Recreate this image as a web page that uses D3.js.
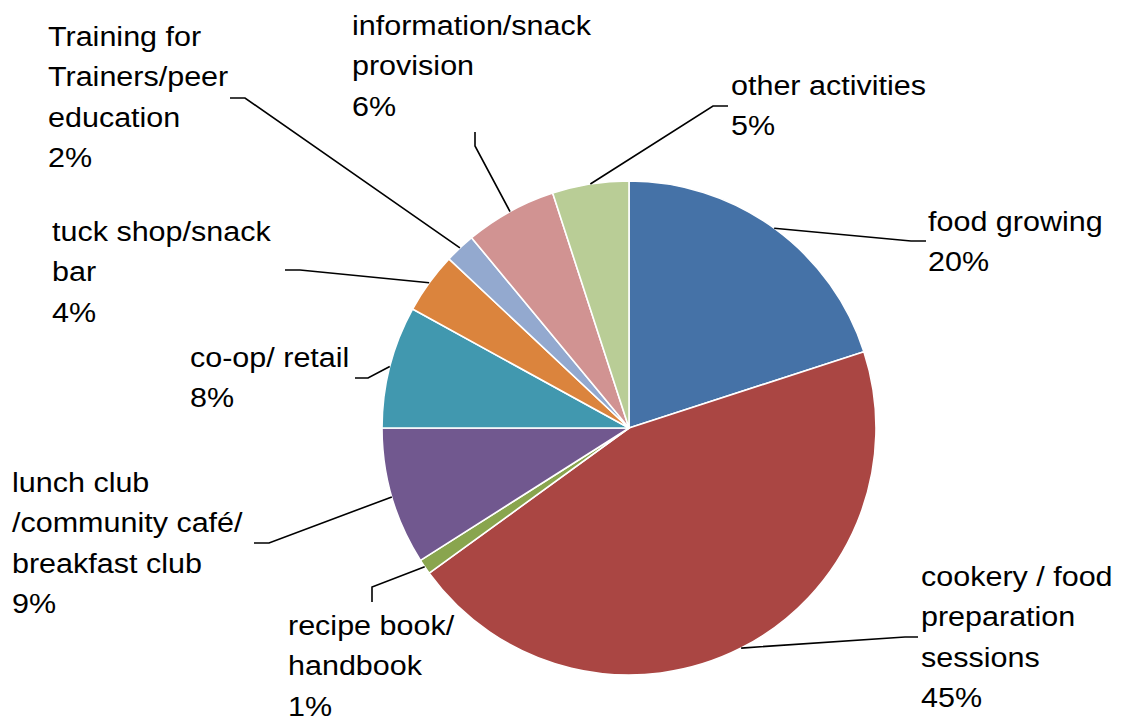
<!DOCTYPE html>
<html>
<head>
<meta charset="utf-8">
<script src="https://cdn.jsdelivr.net/npm/d3@7"></script>
<style>
  html, body { margin: 0; padding: 0; background: #fff; }
  svg { display: block; }
</style>
</head>
<body>
<svg id="chart" width="1122" height="722"></svg>
<script>
// ---- data ----
const categories = [
  "food growing",
  "cookery / food preparation sessions",
  "recipe book/ handbook",
  "lunch club /community café/ breakfast club",
  "co-op/ retail",
  "tuck shop/snack bar",
  "Training for Trainers/peer education",
  "information/snack provision",
  "other activities"
];
const values = [20, 45, 1, 9, 8, 4, 2, 6, 5];
const labelLines = [
  ["food growing", "20%"],
  ["cookery / food", "preparation", "sessions", "45%"],
  ["recipe book/", "handbook", "1%"],
  ["lunch club", "/community café/", "breakfast club", "9%"],
  ["co-op/ retail", "8%"],
  ["tuck shop/snack", "bar", "4%"],
  ["Training for", "Trainers/peer", "education", "2%"],
  ["information/snack", "provision", "6%"],
  ["other activities", "5%"]
];
const colors = ["#4572A7", "#AA4643", "#89A54E", "#71588F", "#4198AF",
                "#DB843D", "#93A9CF", "#D19392", "#B9CD96"];

// ---- layout (label placement, leader elbows) ----
const labelPos = [
  {x: 928, y: 231}, {x: 921, y: 586}, {x: 288, y: 635}, {x: 12, y: 492},
  {x: 190, y: 367}, {x: 52, y: 241}, {x: 48, y: 46}, {x: 352, y: 35},
  {x: 731, y: 95}
];
const leaderPts = [
  [[911, 241], [926, 241]],
  [[905, 637], [918, 637]],
  [[372, 587], [372, 602]],
  [[269, 543], [254, 543]],
  [[368, 378], [355, 378]],
  [[300, 270], [285, 270]],
  [[245, 98], [230, 98]],
  [[475, 146], [475, 132]],
  [[713, 106], [728, 106]]
];

const cx = 629, cy = 428, R = 247;
const fontSize = 28, lineH = 40.5, sx = 1.09;

const svg = d3.select("#chart");
const g = svg.append("g").attr("transform", `translate(${cx},${cy})`);

const pie = d3.pie().sort(null).value(d => d)(values);
const arc = d3.arc().innerRadius(0).outerRadius(R);
const edge = d3.arc().innerRadius(R).outerRadius(R);

g.selectAll("path.slice").data(pie).join("path")
  .attr("class", "slice")
  .attr("d", arc)
  .attr("fill", (d, i) => colors[i])
  .attr("stroke", "#fff")
  .attr("stroke-width", 1.6)
  .attr("stroke-linejoin", "round");

// leader lines
const line = d3.line();
svg.selectAll("path.leader").data(pie).join("path")
  .attr("class", "leader")
  .attr("d", (d, i) => {
    const c = edge.centroid(d);
    const p0 = [cx + c[0], cy + c[1]];
    return line([p0, leaderPts[i][0], leaderPts[i][1]]);
  })
  .attr("fill", "none")
  .attr("stroke", "#000")
  .attr("stroke-width", 1.6);

// labels
const lab = svg.selectAll("text.lab").data(pie).join("text")
  .attr("class", "lab")
  .attr("transform", (d, i) => `translate(${labelPos[i].x},${labelPos[i].y}) scale(${sx},1)`)
  .attr("font-family", "'Liberation Sans', Arial, sans-serif")
  .attr("font-size", fontSize)
  .attr("fill", "#000");
lab.each(function(d, i) {
  d3.select(this).selectAll("tspan").data(labelLines[i]).join("tspan")
    .attr("x", 0)
    .attr("y", (t, j) => j * lineH)
    .text(t => t);
});
</script>
</body>
</html>
